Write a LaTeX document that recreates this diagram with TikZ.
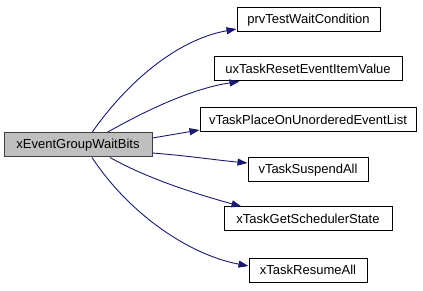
\documentclass[tikz,border=0pt]{standalone}
\usepackage{fontspec}
\setmainfont{Liberation Sans}
\usetikzlibrary{arrows.meta}
\definecolor{edgeblue}{HTML}{191970}
\definecolor{rootfill}{HTML}{BFBFBF}
\tikzset{
  fn/.style={draw=black, line width=1pt, fill=white, inner sep=0pt,
    minimum height=24pt, font=\fontsize{13}{15}\selectfont},
  root/.style={fn, fill=rootfill, draw=black!75},
  call/.style={draw=edgeblue, line width=0.9pt,
    -{Triangle[length=10pt,width=7pt]}},
}
\begin{document}
\begin{tikzpicture}[x=1pt,y=-1pt]
  \useasboundingbox (0,0) rectangle (423,291);
  % caller
  \node[root, minimum width=148pt] (main) at (78,145) {xEventGroupWaitBits};
  % callees, one rank, centred on a common column
  \node[fn, minimum width=143pt] (prv)   at (308.5,20) {prvTestWaitCondition};
  \node[fn, minimum width=188pt] (ux)    at (308,69)   {uxTaskResetEventItemValue};
  \node[fn, minimum width=216pt] (place) at (308,120)  {vTaskPlaceOnUnorderedEventList};
  \node[fn, minimum width=120pt] (susp)  at (308,170)  {vTaskSuspendAll};
  \node[fn, minimum width=168pt] (sched) at (308,219)  {xTaskGetSchedulerState};
  \node[fn, minimum width=118pt] (res)   at (308,270)  {xTaskResumeAll};
  % calls
  \draw[call] ([xshift=14pt]main.north) .. controls (125,85) and (175,40) .. ([yshift=-9pt]prv.west);
  \draw[call] ([xshift=29pt]main.north) .. controls (150,108) and (195,88) .. ([xshift=26pt]ux.south west);
  \draw[call] ([yshift=7pt]main.east) -- ([yshift=-10pt]place.west);
  \draw[call] ([yshift=-8pt]main.east) .. controls (190,156) and (215,160) .. ([yshift=7pt]susp.west);
  \draw[call] ([xshift=32pt]main.south) .. controls (150,180) and (200,195) .. ([xshift=18pt]sched.north west);
  \draw[call] ([xshift=14pt]main.south) .. controls (130,215) and (190,255) .. ([yshift=4pt]res.west);
\end{tikzpicture}
\end{document}
